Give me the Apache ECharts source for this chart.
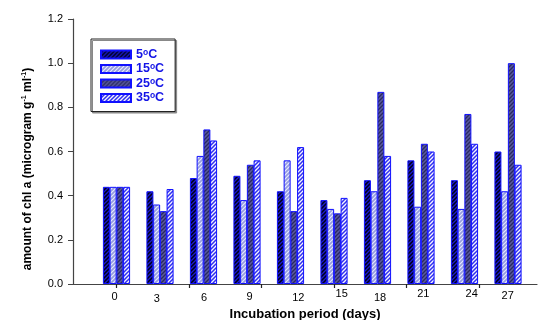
<!DOCTYPE html>
<html>
<head>
<meta charset="utf-8">
<script src="https://cdn.jsdelivr.net/npm/echarts@6/dist/echarts.min.js"></script>
<style>html,body{margin:0;padding:0;background:#fff}#c{width:539px;height:320px}</style>
</head>
<body>
<div id="c"></div>
<script>
// ---- data ----
var days = ['0','3','6','9','12','15','18','21','24','27'];
var seriesNames = ['5', '15', '25', '35'];
var s5  = [0.44,0.42,0.48,0.49,0.42,0.38,0.47,0.56,0.47,0.60];
var s15 = [0.44,0.36,0.58,0.38,0.56,0.34,0.42,0.35,0.34,0.42];
var s25 = [0.44,0.33,0.70,0.54,0.33,0.32,0.87,0.635,0.77,1.00];
var s35 = [0.44,0.43,0.65,0.56,0.62,0.39,0.58,0.60,0.635,0.54];
var yTicks = [0,0.2,0.4,0.6,0.8,1.0,1.2];
var dayTicks = [0,5,10,15,20,25];

// ---- styles ----
var labelShift = [-2,-3.3,0.5,2.5,7.8,7.7,2.5,2.3,7.2,-0.3];
var labelDrop = [6,10,9,6,8,0,9,1,1,4];
var FONT = 'Liberation Sans, Arial, Helvetica, sans-serif';

function hatch(bg, fg, lw) {
  var c = document.createElement('canvas');
  c.width = 4; c.height = 4;
  var g = c.getContext('2d');
  g.fillStyle = bg; g.fillRect(0,0,4,4);
  g.strokeStyle = fg; g.lineWidth = lw;
  g.beginPath();
  g.moveTo(-1,5); g.lineTo(5,-1);
  g.moveTo(-3,3); g.lineTo(3,-3);
  g.moveTo(1,7); g.lineTo(7,1);
  g.stroke();
  return {image: c, repeat: 'repeat'};
}
var fills = [
  hatch('#000018', '#1a1ad0', 1.3),
  hatch('#949ce0', '#e6e8ff', 1.2),
  hatch('#5a5aa0', '#2a2a60', 1.3),
  hatch('#f4f4ff', '#3030f0', 1.5)
];
var dataSets = [s5, s15, s25, s35];

var rich = {};
for (var i = 0; i < days.length; i++) {
  var sh = labelShift[i];
  rich['l' + i] = {
    fontSize: 11, fontFamily: FONT, color: '#000', lineHeight: 13,
    padding: [labelDrop[i], sh < 0 ? -2 * sh : 0, 0, sh > 0 ? 2 * sh : 0]
  };
}

var series = dataSets.map(function (d, k) {
  return {
    name: seriesNames[k],
    type: 'bar',
    xAxisIndex: 1, yAxisIndex: 1,
    data: d,
    barWidth: 7,
    barGap: '-4%',
    itemStyle: {color: fills[k], borderColor: '#1010ff', borderWidth: 1}
  };
});

var chart = echarts.init(document.getElementById('c'), null, {renderer: 'canvas'});
chart.setOption({
  animation: false,
  backgroundColor: '#fff',
  grid: [
    {left: 73, right: 2, top: 19, bottom: 36, containLabel: false, outerBoundsMode: 'none'},
    {left: 94.75, right: 9.25, top: 19, bottom: 36, containLabel: false, outerBoundsMode: 'none'}
  ],
  legend: {
    orient: 'vertical',
    left: 91, top: 39,
    padding: [9, 11, 7, 9],
    itemWidth: 30, itemHeight: 8, itemGap: 1.5,
    icon: 'rect',
    backgroundColor: '#fff',
    borderColor: '#222', borderWidth: 1,
    shadowColor: '#888', shadowOffsetX: 1.5, shadowOffsetY: 1.5, shadowBlur: 0,
    formatter: function (n) { return '{n|' + n + '}{s|o}{n|C}'; },
    textStyle: {
      rich: {
        n: {fontSize: 12.5, fontWeight: 'bold', color: '#1414e6', fontFamily: FONT, lineHeight: 13},
        s: {fontSize: 8.5, fontWeight: 'bold', color: '#1414e6', fontFamily: FONT, verticalAlign: 'top', lineHeight: 13}
      }
    },
    data: seriesNames
  },
  xAxis: [
    {
      type: 'value', gridIndex: 0, min: -3, max: 29, interval: 1,
      axisLine: {show: true, onZero: false, lineStyle: {color: '#444', width: 1.2}},
      axisTick: {show: true, customValues: dayTicks, length: 4, inside: false, lineStyle: {color: '#222', width: 1.2}},
      axisLabel: {show: false},
      splitLine: {show: false},
      name: 'Incubation period (days)',
      nameLocation: 'middle', nameGap: 23.5,
      nameTextStyle: {fontSize: 13, fontWeight: 'bold', color: '#000', fontFamily: FONT}
    },
    {
      type: 'category', gridIndex: 1, data: days,
      axisLine: {show: false}, axisTick: {show: false},
      axisLabel: {
        margin: 3, interval: 0,
        formatter: function (v, idx) { return '{l' + idx + '|' + v + '}'; },
        rich: rich
      }
    }
  ],
  yAxis: [
    {
      type: 'value', gridIndex: 0, min: 0, max: 1.2, interval: 0.2,
      axisLine: {show: true, onZero: false, lineStyle: {color: '#444', width: 1.2}},
      axisTick: {show: true, length: 5, lineStyle: {color: '#444'}},
      splitLine: {show: false},
      axisLabel: {
        margin: 10, fontSize: 11, color: '#000', fontFamily: FONT,
        formatter: function (v) { return v.toFixed(1); }
      },
      name: 'amount of chl a (microgram g{s|-1} ml{s|-1})',
      nameLocation: 'middle', nameGap: 38, nameRotate: 90,
      nameTextStyle: {
        fontSize: 12, fontWeight: 'bold', color: '#000', fontFamily: FONT,
        padding: [0, 35, 0, 0],
        rich: {s: {fontSize: 7, fontWeight: 'bold', color: '#000', fontFamily: FONT, verticalAlign: 'top', lineHeight: 14}}
      }
    },
    {
      type: 'value', gridIndex: 1, min: 0, max: 1.2, interval: 0.2, show: false
    }
  ],
  series: series
});
</script>
</body>
</html>
